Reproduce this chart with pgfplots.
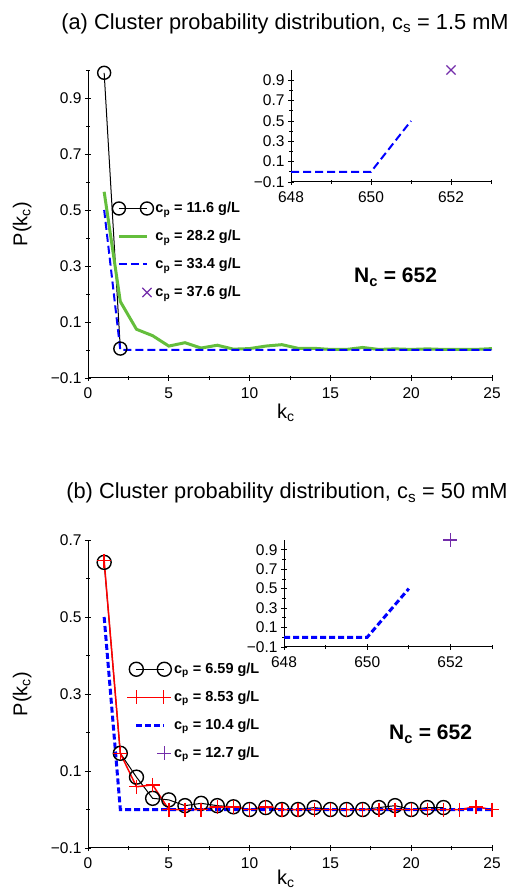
\documentclass[border=0pt]{standalone}
\usepackage{pgfplots}
\pgfplotsset{compat=1.18}
\usepackage{fontspec}
\setmainfont{Liberation Sans}
\definecolor{cgreen}{RGB}{100,190,60}
\definecolor{cpurple}{RGB}{115,45,170}
\newcommand{\fs}[1]{\fontsize{#1}{#1}\selectfont}
\newcommand{\sub}[1]{\textsubscript{#1}}
\pgfplotsset{
 gp/.style={scale only axis, axis lines=left, axis line style={-, line width=1bp},
   tick style={line width=0.8bp, black}, major tick length=6bp, minor tick length=3.5bp,
   tick label style={font=\fs{15.5bp}}, xticklabel style={yshift=-3bp}, clip=false,
   /pgf/number format/assume math mode=true},
 mainx/.style={xmin=0,xmax=25, xtick={0,5,...,25}, minor xtick={2.5,7.5,...,22.5},
   xticklabels={0,5,10,15,20,25},
   xlabel={k\sub{c}}, ylabel={P(k\sub{c})}, label style={font=\fs{20bp}},
   ylabel style={at={(axis description cs:-0.163,0.5)}, anchor=center},
   legend cell align=left},
 insetst/.style={xmin=648,xmax=653, ymin=-0.1, ymax=1.0, xtick={648,650,652}, minor xtick={649,651,653},
   xticklabels={648,650,652},
   ytick={-0.1,0.1,0.3,0.5,0.7,0.9}, yticklabels={−0.1,0.1,0.3,0.5,0.7,0.9},
   minor ytick={0,0.2,0.4,0.6,0.8}},
 twoends/.style={legend image code/.code={\draw plot coordinates {(0bp,0bp) (28bp,0bp)};}},
 lineleg/.style={legend image code/.code={\draw (0bp,0bp) -- (28bp,0bp);}},
 endmark/.style={legend image code/.code={\draw plot[only marks] coordinates {(28bp,0bp)};}},
}
\begin{document}
\begin{tikzpicture}
\path[use as bounding box] (0,0) rectangle (514bp,892bp);
% ---------------- panel (a) ----------------
\node[anchor=base, font=\fs{21.8bp}] at (285bp,862.5bp) {(a) Cluster probability distribution, c\sub{s} = 1.5 mM};
\begin{axis}[gp, mainx, at={(88bp,514bp)}, anchor=south west, width=404bp, height=308bp,
 ymin=-0.1, ymax=1.0,
 xlabel style={at={(axis description cs:0.49,-0.13)}, anchor=base},
 ytick={-0.1,0.1,0.3,0.5,0.7,0.9}, yticklabels={−0.1,0.1,0.3,0.5,0.7,0.9},
 minor ytick={0,0.2,0.4,0.6,0.8,1.0},
 legend style={draw=none, fill=none, at={(axis description cs:0.060,0.577)}, anchor=north west,
   font=\fs{14.5bp}\bfseries, row sep=12bp, inner sep=0pt, nodes={inner sep=2bp}}]
\addplot[black, line width=1bp, mark=o, mark size=6.5bp, mark options={line width=1.4bp}, twoends]
 coordinates {(1,0.99) (2,0.005)};
\addlegendentry{c\sub{p} = 11.6 g/L}
\addplot[cgreen, line width=3bp, lineleg] table {
1 0.565
2 0.173
3 0.074
4 0.051
5 0.014
6 0.026
7 0.007
8 0.017
9 0.003
10 0.005
11 0.014
12 0.019
13 0.006
14 0.006
15 0.002
16 0.002
17 0.009
18 0.002
19 0.004
20 0.002
21 0.004
22 0.002
23 0.002
24 0.002
25 0.005
};
\addlegendentry{c\sub{p} = 28.2 g/L}
\addplot[blue, line width=2bp, dash pattern=on 8bp off 4bp, lineleg] table {
1 0.5
2 0
3 0
4 0
5 0
6 0
7 0
8 0
9 0
10 0
11 0
12 0
13 0
14 0
15 0
16 0
17 0
18 0
19 0
20 0
21 0
22 0
23 0
24 0
25 0
};
\addlegendentry{c\sub{p} = 33.4 g/L}
\addlegendimage{cpurple, only marks, mark=x, mark size=6.5bp, mark options={line width=1.2bp}, endmark}
\addlegendentry{c\sub{p} = 37.6 g/L}
\end{axis}
\node[anchor=base west, font=\fs{21bp}\bfseries, inner sep=0pt] at (354bp,609bp) {N\sub{c} = 652};
\begin{axis}[gp, insetst, at={(291bp,710bp)}, anchor=south west, width=200bp, height=112bp]
\addplot[blue, line width=2bp, dash pattern=on 8bp off 4bp] table {
648 0
649 0
650 0
651 0.5
};
\addplot[cpurple, only marks, mark=x, mark size=6.5bp, mark options={line width=1.2bp}] coordinates {(652,1.0)};
\end{axis}
% ---------------- panel (b) ----------------
\node[anchor=base, font=\fs{21.8bp}] at (287bp,393bp) {(b) Cluster probability distribution, c\sub{s} = 50 mM};
\begin{axis}[gp, mainx, at={(88bp,44bp)}, anchor=south west, width=404bp, height=308bp,
 ymin=-0.1, ymax=0.7,
 xlabel style={at={(axis description cs:0.49,-0.117)}, anchor=base},
 ytick={-0.1,0.1,0.3,0.5,0.7}, yticklabels={−0.1,0.1,0.3,0.5,0.7},
 minor ytick={0,0.2,0.4,0.6},
 legend style={draw=none, fill=none, at={(axis description cs:0.095,0.607)}, anchor=north west,
   font=\fs{14.5bp}\bfseries, row sep=12bp, inner sep=0pt, nodes={inner sep=2bp}}]
\addplot[black, line width=1bp, mark=o, mark size=7bp, mark options={line width=1.4bp}, twoends] table {
1 0.642
2 0.146
3 0.084
4 0.029
5 0.025
6 0.010
7 0.016
8 0.010
9 0.007
10 0.0
11 0.005
12 0.0
13 0.0
14 0.005
15 0.0
16 0.0
17 0.0
18 0.005
19 0.010
20 0.0
21 0.005
22 0.005
};
\addlegendentry{c\sub{p} = 6.59 g/L}
\addplot[red, line width=1.5bp, mark=+, mark size=7bp, mark options={line width=1.4bp},
 legend image code/.code={\draw[mark=none] (-9bp,0bp) -- (35bp,0bp); \draw plot[only marks] coordinates {(0bp,0bp) (27bp,0bp)};}] table {
1 0.646
2 0.146
3 0.059
4 0.064
5 0
6 0
7 0
8 0.007
9 0.007
10 0
11 0.007
12 0
13 0
14 0
15 0
16 0
17 0
18 0
19 0
20 0
21 0
22 0
23 0
24 0.007
25 0
};
\addlegendentry{c\sub{p} = 8.53 g/L}
\addplot[blue, line width=3bp, dash pattern=on 6bp off 3bp, lineleg] table {
1 0.5
2 0
3 0
4 0
5 0
6 0
7 0
8 0
9 0
10 0
11 0
12 0
13 0
14 0
15 0
16 0
17 0
18 0
19 0
20 0
21 0
22 0
23 0
24 0
25 0
};
\addlegendentry{c\sub{p} = 10.4 g/L}
\addlegendimage{cpurple, only marks, mark=+, mark size=7bp, mark options={line width=1.2bp}, endmark}
\addlegendentry{c\sub{p} = 12.7 g/L}
\end{axis}
\node[anchor=base west, font=\fs{21bp}\bfseries, inner sep=0pt] at (389bp,152bp) {N\sub{c} = 652};
\begin{axis}[gp, insetst, at={(284bp,245bp)}, anchor=south west, width=208bp, height=107bp]
\addplot[blue, line width=3bp, dash pattern=on 6bp off 3bp] table {
648 0
649 0
650 0
651 0.5
};
\addplot[cpurple, only marks, mark=+, mark size=7bp, mark options={line width=1.2bp}] coordinates {(652,1.0)};
\end{axis}
\end{tikzpicture}
\end{document}
